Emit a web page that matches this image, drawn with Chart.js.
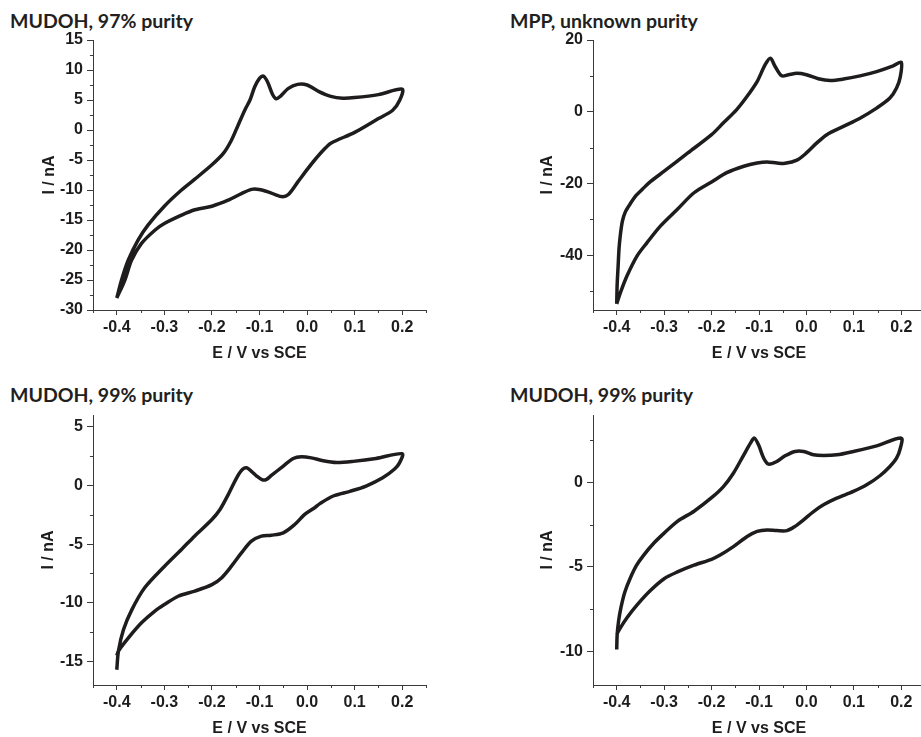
<!DOCTYPE html>
<html><head><meta charset="utf-8">
<script src="https://cdn.jsdelivr.net/npm/chart.js@4.4.0/dist/chart.umd.min.js"></script>
<style>
html,body{margin:0;padding:0;width:921px;height:737px;overflow:hidden;background:#fff;}
.panel{position:absolute;}
.ttl{position:absolute;font-family:Lato,sans-serif;font-weight:700;font-size:19.5px;line-height:19.5px;color:#231f20;white-space:nowrap;}
</style></head><body>
<div class="ttl" style="left:10px;top:11px">MUDOH, 97% purity</div>
<div class="ttl" style="left:510px;top:11px">MPP, unknown purity</div>
<div class="ttl" style="left:10px;top:385px">MUDOH, 99% purity</div>
<div class="ttl" style="left:510px;top:385px">MUDOH, 99% purity</div>
<div class="panel" style="left:0;top:0"><canvas id="c1" width="460" height="370"></canvas></div>
<div class="panel" style="left:460px;top:0"><canvas id="c2" width="480" height="370"></canvas></div>
<div class="panel" style="left:0;top:370px"><canvas id="c3" width="460" height="390"></canvas></div>
<div class="panel" style="left:460px;top:370px"><canvas id="c4" width="480" height="390"></canvas></div>
<script>
// ---- data (E / V vs SCE, I / nA), loop: forward branch then reverse branch ----
const potentialA = [-0.4,-0.39,-0.376,-0.355,-0.334,-0.3,-0.264,-0.236,-0.2,-0.176,-0.159,-0.145,-0.131,-0.12,-0.11,-0.1,-0.092,-0.083,-0.073,-0.065,-0.055,-0.04,-0.02,0.0,0.025,0.05,0.075,0.1,0.15,0.2,
  0.195,0.18,0.15,0.1,0.05,0.035,0.016,0.002,-0.019,-0.04,-0.054,-0.082,-0.101,-0.117,-0.138,-0.166,-0.2,-0.236,-0.264,-0.3,-0.32,-0.348,-0.369,-0.383,-0.4];
const currentA = [-28,-25,-21.7,-18.3,-15.8,-12.7,-10,-8.2,-5.8,-3.9,-1.7,0.8,3.3,5.0,7.2,8.6,9.0,8.0,6.0,5.2,5.7,6.9,7.6,7.5,6.4,5.6,5.3,5.4,5.9,6.8,
  5.0,3.3,1.9,-0.4,-2.2,-3.3,-5.0,-6.4,-8.6,-10.8,-11.1,-10.3,-9.9,-9.9,-10.6,-11.7,-12.7,-13.3,-14.2,-15.6,-16.7,-18.9,-21.7,-25,-28];

const potentialB = [-0.4,-0.399,-0.397,-0.395,-0.392,-0.388,-0.382,-0.374,-0.36,-0.345,-0.329,-0.3,-0.25,-0.2,-0.175,-0.147,-0.125,-0.104,-0.087,-0.076,-0.066,-0.052,-0.038,-0.02,0.0,0.025,0.05,0.078,0.113,0.148,0.183,0.2,
  0.198,0.19,0.176,0.148,0.113,0.078,0.043,0.022,0.0,-0.02,-0.045,-0.062,-0.083,-0.104,-0.132,-0.168,-0.2,-0.237,-0.272,-0.308,-0.336,-0.357,-0.378,-0.392,-0.4];
const currentB = [-53.6,-48,-43,-38,-34,-30.5,-28,-26.2,-23.5,-21.5,-19.5,-16.6,-11.5,-6.4,-3.1,0.6,4.3,8.4,13.1,14.9,12.6,10,10.3,10.7,10.3,9.2,8.7,9.1,10,11.2,12.8,13.8,
  9.8,6.6,3.8,1.0,-1.8,-4.1,-6.4,-8.7,-11.5,-13.5,-14.4,-14.3,-14.0,-14.3,-15.2,-17,-19.6,-22.6,-27.2,-31.9,-36.5,-40.2,-45.7,-50.4,-53.6];

const potentialC = [-0.4,-0.3965,-0.386,-0.3685,-0.341,-0.3,-0.264,-0.236,-0.2,-0.183,-0.166,-0.148,-0.136,-0.127,-0.117,-0.106,-0.095,-0.086,-0.075,-0.05,-0.029,-0.012,0.009,0.034,0.062,0.097,0.145,0.2,
  0.194,0.184,0.159,0.124,0.09,0.055,0.027,0.016,-0.005,-0.026,-0.05,-0.075,-0.096,-0.117,-0.138,-0.159,-0.18,-0.2,-0.236,-0.271,-0.3,-0.32,-0.348,-0.376,-0.3965,-0.4];
const currentC = [-15.7,-14.1,-12.3,-10.6,-8.7,-6.9,-5.45,-4.3,-2.9,-2.05,-0.8,0.65,1.35,1.5,1.2,0.8,0.5,0.5,0.85,1.65,2.3,2.45,2.35,2.1,1.95,2.05,2.3,2.7,
  1.9,1.4,0.65,-0.05,-0.5,-0.9,-1.55,-1.9,-2.47,-3.33,-4.04,-4.24,-4.32,-4.75,-5.75,-6.88,-7.88,-8.45,-9.0,-9.44,-10.15,-10.7,-11.7,-13.0,-14.1,-14.5];

const potentialD = [-0.4,-0.399,-0.396,-0.391,-0.383,-0.372,-0.358,-0.343,-0.322,-0.3,-0.272,-0.237,-0.2,-0.175,-0.154,-0.132,-0.118,-0.11,-0.101,-0.09,-0.08,-0.062,-0.045,-0.024,-0.006,0.015,0.036,0.064,0.099,0.148,0.2,
  0.198,0.19,0.176,0.155,0.127,0.099,0.064,0.036,0.015,-0.006,-0.024,-0.041,-0.062,-0.083,-0.104,-0.125,-0.154,-0.182,-0.2,-0.237,-0.272,-0.3,-0.329,-0.357,-0.378,-0.392,-0.4];
const currentD = [-9.9,-9.0,-8.2,-7.4,-6.5,-5.7,-4.9,-4.3,-3.6,-3.0,-2.3,-1.7,-0.9,-0.24,0.55,1.64,2.33,2.63,2.23,1.44,1.09,1.25,1.58,1.84,1.84,1.64,1.6,1.64,1.84,2.17,2.63,
  2.03,1.44,0.95,0.4,-0.14,-0.53,-0.93,-1.32,-1.72,-2.21,-2.6,-2.85,-2.85,-2.81,-2.9,-3.2,-3.8,-4.3,-4.55,-4.9,-5.3,-5.7,-6.4,-7.25,-8.0,-8.6,-9.0];

// ---- ticks ----
const xMajorTicks = [-0.4,-0.3,-0.2,-0.1,0.0,0.1,0.2];
const xMinorTicks = [-0.45,-0.35,-0.25,-0.15,-0.05,0.05,0.15,0.25];
const yMajorA = [15,10,5,0,-5,-10,-15,-20,-25,-30];
const yMinorA = [12.5,7.5,2.5,-2.5,-7.5,-12.5,-17.5,-22.5,-27.5];
const yMajorB = [20,0,-20,-40];
const yMinorB = [10,-10,-30,-50];
const yMajorC = [5,0,-5,-10,-15];
const yMinorC = [2.5,-2.5,-7.5,-12.5];
const yMajorD = [0,-5,-10];
const yMinorD = [2.5,-2.5,-7.5];

const INK = '#1e1c1d', AXIS = '#3a3a3a';
const tickFont = {family:'"Liberation Sans", Arial, sans-serif', size:16, weight:'bold'};
const titleFont = {family:'"Liberation Sans", Arial, sans-serif', size:16, weight:'bold'};

const minorTicksPlugin = {
  id:'minorTicks',
  afterDraw(chart, args, opts){
    const ctx = chart.ctx, xs = chart.scales.x, ys = chart.scales.y;
    ctx.save(); ctx.strokeStyle = AXIS; ctx.lineWidth = 1; ctx.beginPath();
    opts.x.forEach(v => { const p = Math.round(xs.getPixelForValue(v)) + 0.5; ctx.moveTo(p, xs.top); ctx.lineTo(p, xs.top + 3); });
    opts.y.forEach(v => { const p = Math.round(ys.getPixelForValue(v)) + 0.5; ctx.moveTo(ys.right, p); ctx.lineTo(ys.right - 3, p); });
    ctx.stroke(); ctx.restore();
  }
};

function makeChart(id, E, I, yMin, yMax, yMajor, yMinor, g){
  return new Chart(document.getElementById(id), {
    type:'scatter',
    data:{datasets:[{data:E.map((e,k)=>({x:e, y:I[k]})), showLine:true, borderColor:INK, borderWidth:3.5,
      pointRadius:0, tension:0.3, fill:false}]},
    options:{
      responsive:false, animation:false, devicePixelRatio:1,
      layout:{padding:{top:g.top, right:g.right, left:0, bottom:0}},
      plugins:{legend:{display:false}, tooltip:{enabled:false}, minorTicks:{x:xMinorTicks, y:yMinor}},
      scales:{
        x:{type:'linear', min:-0.45, max:0.25,
          afterBuildTicks:s=>{ s.ticks = xMajorTicks.map(v=>({value:v})); },
          afterFit:s=>{ s.height = g.xh; },
          ticks:{callback:v=>Number(v).toFixed(1), font:tickFont, color:INK, padding:3, maxRotation:0, autoSkip:false},
          grid:{display:true, drawOnChartArea:false, drawTicks:true, tickLength:5, tickColor:AXIS, tickWidth:1},
          border:{display:true, color:AXIS, width:1},
          title:{display:true, text:'E / V vs SCE', font:titleFont, color:INK, padding:{top:0, bottom:g.xtp}}},
        y:{type:'linear', min:yMin, max:yMax,
          afterBuildTicks:s=>{ s.ticks = yMajor.map(v=>({value:v})); },
          afterFit:s=>{ s.width = g.yw; },
          ticks:{callback:v=>String(v), font:tickFont, color:INK, padding:4, autoSkip:false},
          grid:{display:true, drawOnChartArea:false, drawTicks:true, tickLength:6, tickColor:AXIS, tickWidth:1},
          border:{display:true, color:AXIS, width:1},
          title:{display:true, text:'I / nA', font:titleFont, color:INK, padding:{top:g.ytp, bottom:0}}}
      }
    },
    plugins:[minorTicksPlugin]
  });
}

makeChart('c1', potentialA, currentA, -30, 15, yMajorA, yMinorA, {top:40, right:34, xh:60, xtp:6.4, yw:93, ytp:40});
makeChart('c2', potentialB, currentB, -55.3, 20, yMajorB, yMinorB, {top:40, right:15, xh:60, xtp:7, yw:133, ytp:78});
makeChart('c3', potentialC, currentC, -17, 6, yMajorC, yMinorC, {top:45, right:34, xh:75, xtp:21.4, yw:93, ytp:39.4});
makeChart('c4', potentialD, currentD, -12, 4, yMajorD, yMinorD, {top:45, right:15, xh:75, xtp:21.4, yw:133, ytp:78});
</script>
</body></html>
